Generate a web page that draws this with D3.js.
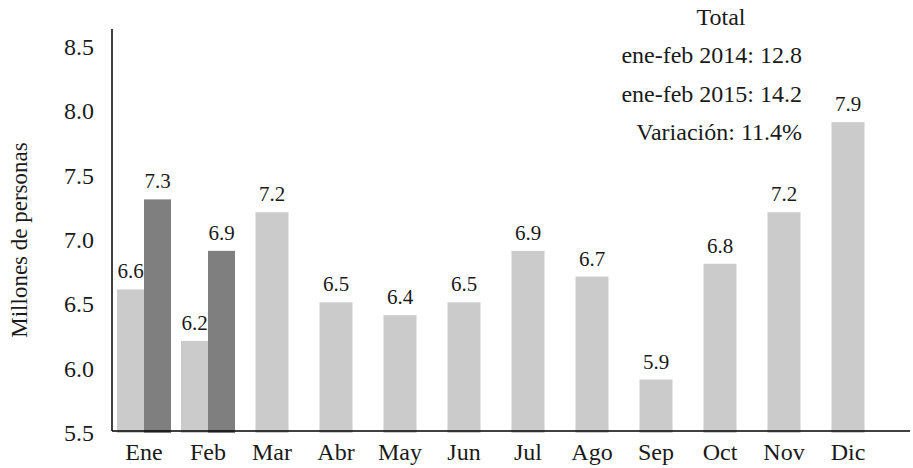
<!DOCTYPE html>
<html>
<head>
<meta charset="utf-8">
<script src="https://cdn.jsdelivr.net/npm/d3@7"></script>
<style>
  html, body { margin: 0; padding: 0; background: #ffffff; }
  svg { display: block; }
</style>
</head>
<body>
<svg id="chart" width="913" height="468"></svg>
<script>
// Monthly figures (millions of people)
const months = ["Ene", "Feb", "Mar", "Abr", "May", "Jun", "Jul", "Ago", "Sep", "Oct", "Nov", "Dic"];
const values2014 = [6.6, 6.2, 7.2, 6.5, 6.4, 6.5, 6.9, 6.7, 5.9, 6.8, 7.2, 7.9];
const months2015 = ["Ene", "Feb"];
const values2015 = [7.3, 6.9];
const yTicks = [5.5, 6.0, 6.5, 7.0, 7.5, 8.0, 8.5];
const summaryTitle = "Total";
const summaryLines = ["ene-feb 2014: 12.8", "ene-feb 2015: 14.2", "Variación: 11.4%"];
const yTitle = "Millones de personas";

const FONT = "'Liberation Serif', 'Times New Roman', serif";
const INK = "#1a1a1a";
const svg = d3.select("#chart");
const plotLeft = 112, plotRight = 880, axisEnd = 910, plotBottom = 431, plotTop = 45, axisTop = 29;
const lightColor = "#cbcbcb", darkColor = "#7f7f7f";

const x = d3.scaleBand().domain(months).range([plotLeft, plotRight]).paddingInner(0.484).paddingOuter(0.242);
const y = d3.scaleLinear().domain([5.5, 8.5]).range([plotBottom, plotTop]);

const groupHalf = 27;
const has2015 = new Set(months2015);
const center = m => x(m) + x.bandwidth() / 2;
const sub = m => d3.scaleBand().domain(["2014", "2015"]).range([center(m) - groupHalf, center(m) + groupHalf]);

// Bars for 2014 (single or left of a pair) and 2015 (right of a pair)
const bars14 = months.map((m, i) => {
  const paired = has2015.has(m);
  const bx = paired ? sub(m)("2014") : x(m);
  const bw = paired ? sub(m).bandwidth() : x.bandwidth();
  return { m, v: values2014[i], bx, bw };
});
const bars15 = months2015.map((m, i) => ({ m, v: values2015[i], bx: sub(m)("2015"), bw: sub(m).bandwidth() }));

const g = svg.append("g");
g.selectAll("rect.b14").data(bars14).enter().append("rect")
  .attr("class", "b14")
  .attr("x", d => d.bx).attr("width", d => d.bw)
  .attr("y", d => y(d.v)).attr("height", d => y(5.5) - y(d.v) + 2)
  .attr("fill", lightColor);
g.selectAll("rect.b15").data(bars15).enter().append("rect")
  .attr("class", "b15")
  .attr("x", d => d.bx).attr("width", d => d.bw)
  .attr("y", d => y(d.v)).attr("height", d => y(5.5) - y(d.v) + 2)
  .attr("fill", darkColor);

// Value labels
g.selectAll("text.lbl").data(bars14.concat(bars15)).enter().append("text")
  .attr("class", "lbl")
  .attr("x", d => d.bx + d.bw / 2)
  .attr("y", d => y(d.v) - 11)
  .attr("text-anchor", "middle")
  .style("font-family", FONT).style("font-size", "21px").style("fill", INK)
  .text(d => d3.format(".1f")(d.v));

// Axis lines
svg.append("line").attr("x1", plotLeft).attr("x2", plotLeft).attr("y1", axisTop).attr("y2", plotBottom)
  .attr("stroke", "#000").attr("stroke-width", 1.5);
svg.append("line").attr("x1", plotLeft).attr("x2", axisEnd).attr("y1", plotBottom).attr("y2", plotBottom)
  .attr("stroke", "#000").attr("stroke-width", 1.5);

// Y tick labels
const yAxis = d3.axisLeft(y).tickValues(yTicks).tickSize(0).tickPadding(18).tickFormat(d3.format(".1f"));
const ya = svg.append("g").attr("transform", `translate(${plotLeft},0)`).call(yAxis);
ya.select(".domain").remove();
ya.selectAll("text")
  .style("font-family", FONT).style("font-size", "24px").style("fill", INK)
  .attr("dy", "0.4em");

// Month labels
const xAxis = d3.axisBottom(x).tickSize(0).tickPadding(12);
const xa = svg.append("g").attr("transform", `translate(0,${plotBottom})`).call(xAxis);
xa.select(".domain").remove();
xa.selectAll("text")
  .style("font-family", FONT).style("font-size", "24px").style("fill", INK);

// Y title
svg.append("text")
  .attr("transform", "translate(27,240) rotate(-90)")
  .attr("text-anchor", "middle")
  .style("font-family", FONT).style("font-size", "23px").style("fill", INK)
  .text(yTitle);

// Summary block
svg.append("text").attr("x", 721).attr("y", 25).attr("text-anchor", "middle")
  .style("font-family", FONT).style("font-size", "24px").style("fill", INK)
  .text(summaryTitle);
svg.selectAll("text.sum").data(summaryLines).enter().append("text")
  .attr("class", "sum")
  .attr("x", 802).attr("y", (d, i) => 63 + i * 38.5)
  .attr("text-anchor", "end")
  .style("font-family", FONT).style("font-size", "24px").style("fill", INK)
  .text(d => d);
</script>
</body>
</html>
